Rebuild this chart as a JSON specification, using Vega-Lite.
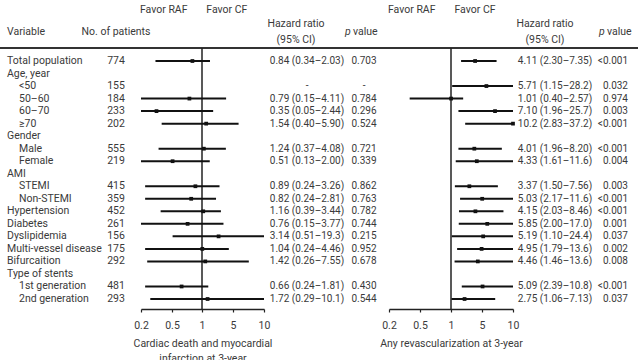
{
  "$schema": "https://vega.github.io/schema/vega-lite/v6.json",
  "width": 638,
  "height": 360,
  "padding": 0,
  "autosize": {"type": "none"},
  "background": "white",
  "config": {
    "view": {"stroke": null},
    "text": {"font": "Roboto", "fontSize": 10.5, "baseline": "middle", "color": "#3a3a3a"}
  },
  "datasets": {
    "rows": [
      {"row": 0, "label": "Total population", "level": 0, "n": 774, "a": 0.84, "aLo": 0.34, "aHi": 2.03, "aText": "0.84 (0.34–2.03)", "aP": "0.703", "b": 4.11, "bLo": 2.30, "bHi": 7.35, "bText": "4.11 (2.30–7.35)", "bP": "<0.001"},
      {"row": 1, "label": "Age, year", "level": 0},
      {"row": 2, "label": "<50", "level": 1, "n": 155, "aText": "-", "aP": "-", "b": 5.71, "bLo": 1.15, "bHi": 28.2, "bText": "5.71 (1.15–28.2)", "bP": "0.032"},
      {"row": 3, "label": "50–60", "level": 1, "n": 184, "a": 0.79, "aLo": 0.15, "aHi": 4.11, "aText": "0.79 (0.15–4.11)", "aP": "0.784", "b": 1.01, "bLo": 0.40, "bHi": 2.57, "bText": "1.01 (0.40–2.57)", "bP": "0.974"},
      {"row": 4, "label": "60–70", "level": 1, "n": 233, "a": 0.35, "aLo": 0.05, "aHi": 2.44, "aText": "0.35 (0.05–2.44)", "aP": "0.296", "b": 7.10, "bLo": 1.96, "bHi": 25.7, "bText": "7.10 (1.96–25.7)", "bP": "0.003"},
      {"row": 5, "label": "≥70", "level": 1, "n": 202, "a": 1.54, "aLo": 0.40, "aHi": 5.90, "aText": "1.54 (0.40–5.90)", "aP": "0.524", "b": 10.2, "bLo": 2.83, "bHi": 37.2, "bText": "10.2 (2.83–37.2)", "bP": "<0.001"},
      {"row": 6, "label": "Gender", "level": 0},
      {"row": 7, "label": "Male", "level": 1, "n": 555, "a": 1.24, "aLo": 0.37, "aHi": 4.08, "aText": "1.24 (0.37–4.08)", "aP": "0.721", "b": 4.01, "bLo": 1.96, "bHi": 8.20, "bText": "4.01 (1.96–8.20)", "bP": "<0.001"},
      {"row": 8, "label": "Female", "level": 1, "n": 219, "a": 0.51, "aLo": 0.13, "aHi": 2.00, "aText": "0.51 (0.13–2.00)", "aP": "0.339", "b": 4.33, "bLo": 1.61, "bHi": 11.6, "bText": "4.33 (1.61–11.6)", "bP": "0.004"},
      {"row": 9, "label": "AMI", "level": 0},
      {"row": 10, "label": "STEMI", "level": 1, "n": 415, "a": 0.89, "aLo": 0.24, "aHi": 3.26, "aText": "0.89 (0.24–3.26)", "aP": "0.862", "b": 3.37, "bLo": 1.50, "bHi": 7.56, "bText": "3.37 (1.50–7.56)", "bP": "0.003"},
      {"row": 11, "label": "Non-STEMI", "level": 1, "n": 359, "a": 0.82, "aLo": 0.24, "aHi": 2.81, "aText": "0.82 (0.24–2.81)", "aP": "0.763", "b": 5.03, "bLo": 2.17, "bHi": 11.6, "bText": "5.03 (2.17–11.6)", "bP": "<0.001"},
      {"row": 12, "label": "Hypertension", "level": 0, "n": 452, "a": 1.16, "aLo": 0.39, "aHi": 3.44, "aText": "1.16 (0.39–3.44)", "aP": "0.782", "b": 4.15, "bLo": 2.03, "bHi": 8.46, "bText": "4.15 (2.03–8.46)", "bP": "<0.001"},
      {"row": 13, "label": "Diabetes", "level": 0, "n": 261, "a": 0.76, "aLo": 0.15, "aHi": 3.77, "aText": "0.76 (0.15–3.77)", "aP": "0.744", "b": 5.85, "bLo": 2.00, "bHi": 17.0, "bText": "5.85 (2.00–17.0)", "bP": "0.001"},
      {"row": 14, "label": "Dyslipidemia", "level": 0, "n": 156, "a": 3.14, "aLo": 0.51, "aHi": 19.3, "aText": "3.14 (0.51–19.3)", "aP": "0.215", "b": 5.19, "bLo": 1.10, "bHi": 24.4, "bText": "5.19 (1.10–24.4)", "bP": "0.037"},
      {"row": 15, "label": "Multi-vessel disease", "level": 0, "n": 175, "a": 1.04, "aLo": 0.24, "aHi": 4.46, "aText": "1.04 (0.24–4.46)", "aP": "0.952", "b": 4.95, "bLo": 1.79, "bHi": 13.6, "bText": "4.95 (1.79–13.6)", "bP": "0.002"},
      {"row": 16, "label": "Bifurcaition", "level": 0, "n": 292, "a": 1.42, "aLo": 0.26, "aHi": 7.55, "aText": "1.42 (0.26–7.55)", "aP": "0.678", "b": 4.46, "bLo": 1.46, "bHi": 13.6, "bText": "4.46 (1.46–13.6)", "bP": "0.008"},
      {"row": 17, "label": "Type of stents", "level": 0},
      {"row": 18, "label": "1st generation", "level": 1, "n": 481, "a": 0.66, "aLo": 0.24, "aHi": 1.81, "aText": "0.66 (0.24–1.81)", "aP": "0.430", "b": 5.09, "bLo": 2.39, "bHi": 10.8, "bText": "5.09 (2.39–10.8)", "bP": "<0.001"},
      {"row": 19, "label": "2nd generation", "level": 1, "n": 293, "a": 1.72, "aLo": 0.29, "aHi": 10.1, "aText": "1.72 (0.29–10.1)", "aP": "0.544", "b": 2.75, "bLo": 1.06, "bHi": 7.13, "bText": "2.75 (1.06–7.13)", "bP": "0.037"}
    ]
  },
  "resolve": {"scale": {"x": "independent"}},
  "layer": [
    {
      "layer": [
        {
          "data": {"name": "rows"},
          "transform": [{"filter": "datum.level == 0"}],
          "mark": {"type": "text", "align": "left"},
          "encoding": {
            "x": {"datum": 0, "type": "quantitative", "scale": {"type": "linear", "domain": [0, 1, 2, 3, 4, 5, 6, 7, 8, 9, 10], "range": [7, 19, 116, 296, 307, 345, 364, 545, 555, 599, 628], "nice": false, "zero": false}, "axis": null},
            "y": {"field": "row", "type": "quantitative", "scale": {"domain": [-4.87, 23.87], "reverse": true, "nice": false, "zero": false}, "axis": null},
            "text": {"field": "label"}
          }
        },
        {
          "data": {"name": "rows"},
          "transform": [{"filter": "datum.level == 1"}],
          "mark": {"type": "text", "align": "left"},
          "encoding": {
            "x": {"datum": 1, "type": "quantitative", "axis": null},
            "y": {"field": "row", "type": "quantitative", "axis": null},
            "text": {"field": "label"}
          }
        },
        {
          "data": {"name": "rows"},
          "transform": [{"filter": "isValid(datum.n)"}],
          "mark": {"type": "text", "align": "center"},
          "encoding": {
            "x": {"datum": 2, "type": "quantitative", "axis": null},
            "y": {"field": "row", "type": "quantitative", "axis": null},
            "text": {"field": "n"}
          }
        },
        {
          "data": {"name": "rows"},
          "transform": [{"filter": "isValid(datum.aText)"}],
          "mark": {"type": "text", "align": "center", "fontSize": 10},
          "encoding": {
            "x": {"datum": 4, "type": "quantitative", "axis": null},
            "y": {"field": "row", "type": "quantitative", "axis": null},
            "text": {"field": "aText"}
          }
        },
        {
          "data": {"name": "rows"},
          "transform": [{"filter": "isValid(datum.aP)"}],
          "mark": {"type": "text", "align": "center", "fontSize": 10},
          "encoding": {
            "x": {"datum": 6, "type": "quantitative", "axis": null},
            "y": {"field": "row", "type": "quantitative", "axis": null},
            "text": {"field": "aP"}
          }
        },
        {
          "data": {"name": "rows"},
          "transform": [{"filter": "isValid(datum.bText)"}],
          "mark": {"type": "text", "align": "center", "fontSize": 10},
          "encoding": {
            "x": {"datum": 8, "type": "quantitative", "axis": null},
            "y": {"field": "row", "type": "quantitative", "axis": null},
            "text": {"field": "bText"}
          }
        },
        {
          "data": {"name": "rows"},
          "transform": [{"filter": "isValid(datum.bP)"}],
          "mark": {"type": "text", "align": "right", "fontSize": 10},
          "encoding": {
            "x": {"datum": 10, "type": "quantitative", "axis": null},
            "y": {"field": "row", "type": "quantitative", "axis": null},
            "text": {"field": "bP"}
          }
        },
        {
          "data": {"values": [{"h": "Variable"}]},
          "mark": {"type": "text", "align": "left"},
          "encoding": {
            "x": {"datum": 0, "type": "quantitative", "axis": null},
            "y": {"datum": -2.315, "type": "quantitative", "axis": null},
            "text": {"field": "h"}
          }
        },
        {
          "data": {"values": [{"h": "No. of patients"}]},
          "mark": {"type": "text", "align": "center"},
          "encoding": {
            "x": {"datum": 2, "type": "quantitative", "axis": null},
            "y": {"datum": -2.315, "type": "quantitative", "axis": null},
            "text": {"field": "h"}
          }
        },
        {
          "data": {"values": [{"col": 3, "h": ["Hazard ratio", "(95% CI)"]}, {"col": 7, "h": ["Hazard ratio", "(95% CI)"]}]},
          "mark": {"type": "text", "align": "center", "lineHeight": 16},
          "encoding": {
            "x": {"field": "col", "type": "quantitative", "axis": null},
            "y": {"datum": -2.954, "type": "quantitative", "axis": null},
            "text": {"field": "h"}
          }
        },
        {
          "data": {"values": [{"col": 5, "h": "p"}, {"col": 9, "h": "p"}]},
          "mark": {"type": "text", "align": "left", "fontStyle": "italic"},
          "encoding": {
            "x": {"field": "col", "type": "quantitative", "axis": null},
            "y": {"datum": -2.315, "type": "quantitative", "axis": null},
            "text": {"field": "h"}
          }
        },
        {
          "data": {"values": [{"col": 5, "h": "value"}, {"col": 9, "h": "value"}]},
          "mark": {"type": "text", "align": "left", "dx": 8},
          "encoding": {
            "x": {"field": "col", "type": "quantitative", "axis": null},
            "y": {"datum": -2.315, "type": "quantitative", "axis": null},
            "text": {"field": "h"}
          }
        },
        {
          "data": {"values": [{"line": "header"}]},
          "mark": {"type": "rule", "color": "#333333", "strokeWidth": 2},
          "encoding": {
            "y": {"datum": -1.04, "type": "quantitative", "axis": null}
          }
        }
      ]
    },
    {
      "layer": [
        {
          "data": {"values": [{"ref": 1}]},
          "mark": {"type": "rule", "color": "#222222", "strokeWidth": 1.5},
          "encoding": {
            "x": {
              "field": "ref", "type": "quantitative",
              "scale": {"type": "linear", "domain": [0.2, 0.5, 1, 5, 10], "range": [141, 172, 202, 233, 264], "clamp": true, "nice": false, "zero": false},
              "axis": {
                "orient": "bottom", "offset": -51, "values": [0.2, 0.5, 1, 5, 10], "format": "~g",
                "labelFlush": false, "labelOverlap": false, "grid": false,
                "domainColor": "#222222", "domainWidth": 1.5, "tickColor": "#222222", "tickWidth": 1.2, "tickSize": 3,
                "labelFont": "Roboto", "labelFontSize": 10.5, "labelColor": "#3a3a3a", "labelPadding": 8,
                "title": ["Cardiac death and myocardial", "infarction at 3-year"],
                "titleFont": "Roboto", "titleFontSize": 10.5, "titleFontWeight": "normal", "titleColor": "#3a3a3a", "titlePadding": 8, "titleLineHeight": 15
              }
            },
            "y": {"datum": -1.04, "type": "quantitative", "axis": null},
            "y2": {"datum": 19.8}
          }
        },
        {
          "data": {"name": "rows"},
          "transform": [{"filter": "isValid(datum.a)"}],
          "mark": {"type": "rule", "color": "#111111", "strokeWidth": 2},
          "encoding": {
            "x": {"field": "aLo", "type": "quantitative"},
            "x2": {"field": "aHi"},
            "y": {"field": "row", "type": "quantitative", "axis": null}
          }
        },
        {
          "data": {"name": "rows"},
          "transform": [{"filter": "isValid(datum.a)"}],
          "mark": {"type": "point", "shape": "square", "filled": true, "size": 14, "color": "#111111", "opacity": 1},
          "encoding": {
            "x": {"field": "a", "type": "quantitative"},
            "y": {"field": "row", "type": "quantitative", "axis": null}
          }
        },
        {
          "data": {"values": [{"side": 0.42, "t": "Favor RAF"}, {"side": 4.2, "t": "Favor CF"}]},
          "mark": {"type": "text", "align": "center"},
          "encoding": {
            "x": {"field": "side", "type": "quantitative"},
            "y": {"datum": -4.07, "type": "quantitative", "axis": null},
            "text": {"field": "t"}
          }
        }
      ]
    },
    {
      "layer": [
        {
          "data": {"values": [{"ref": 1}]},
          "mark": {"type": "rule", "color": "#222222", "strokeWidth": 1.5},
          "encoding": {
            "x": {
              "field": "ref", "type": "quantitative",
              "scale": {"type": "linear", "domain": [0.2, 0.5, 1, 5, 10], "range": [389, 420, 451, 482, 513], "clamp": true, "nice": false, "zero": false},
              "axis": {
                "orient": "bottom", "offset": -51, "values": [0.2, 0.5, 1, 5, 10], "format": "~g",
                "labelFlush": false, "labelOverlap": false, "grid": false,
                "domainColor": "#222222", "domainWidth": 1.5, "tickColor": "#222222", "tickWidth": 1.2, "tickSize": 3,
                "labelFont": "Roboto", "labelFontSize": 10.5, "labelColor": "#3a3a3a", "labelPadding": 8,
                "title": "Any revascularization at 3-year",
                "titleFont": "Roboto", "titleFontSize": 10.5, "titleFontWeight": "normal", "titleColor": "#3a3a3a", "titlePadding": 8
              }
            },
            "y": {"datum": -1.04, "type": "quantitative", "axis": null},
            "y2": {"datum": 19.8}
          }
        },
        {
          "data": {"name": "rows"},
          "transform": [{"filter": "isValid(datum.b)"}],
          "mark": {"type": "rule", "color": "#111111", "strokeWidth": 2},
          "encoding": {
            "x": {"field": "bLo", "type": "quantitative"},
            "x2": {"field": "bHi"},
            "y": {"field": "row", "type": "quantitative", "axis": null}
          }
        },
        {
          "data": {"name": "rows"},
          "transform": [{"filter": "isValid(datum.b)"}],
          "mark": {"type": "point", "shape": "square", "filled": true, "size": 14, "color": "#111111", "opacity": 1},
          "encoding": {
            "x": {"field": "b", "type": "quantitative"},
            "y": {"field": "row", "type": "quantitative", "axis": null}
          }
        },
        {
          "data": {"values": [{"side": 0.42, "t": "Favor RAF"}, {"side": 4.1, "t": "Favor CF"}]},
          "mark": {"type": "text", "align": "center"},
          "encoding": {
            "x": {"field": "side", "type": "quantitative"},
            "y": {"datum": -4.07, "type": "quantitative", "axis": null},
            "text": {"field": "t"}
          }
        }
      ]
    }
  ]
}
